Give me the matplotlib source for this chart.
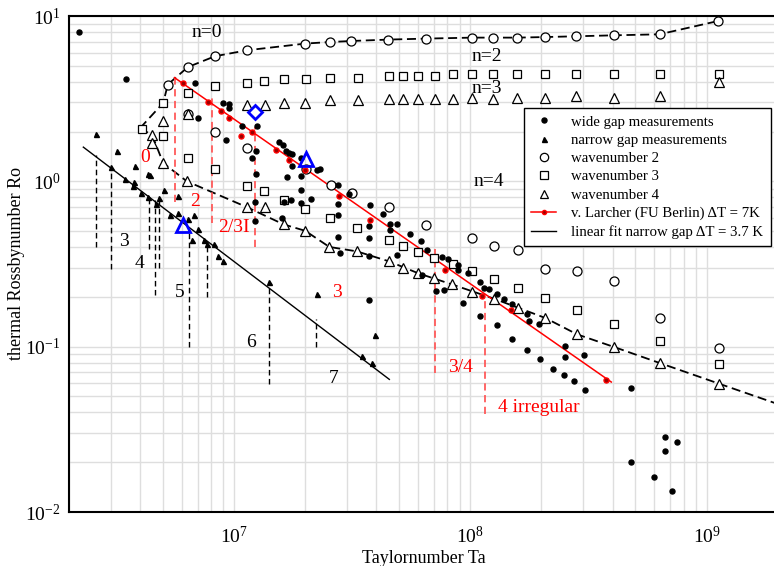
import numpy as np
import matplotlib
matplotlib.use("Agg")
import matplotlib.pyplot as plt
from matplotlib.lines import Line2D

plt.rcParams['font.family'] = 'Liberation Serif'
plt.rcParams['mathtext.fontset'] = 'stix'

# ---------------- data ----------------
# wide gap measurements (black dots)
wide_ta = [2.20e6, 3.47e6, 6.84e6, 7.03e6, 9.01e6, 9.55e6, 9.55e6, 9.25e6, 1.245e7, 1.19e7,
           1.24e7, 1.24e7, 1.55e7, 1.61e7, 1.66e7, 1.71e7, 1.76e7, 1.92e7, 1.76e7, 1.68e7,
           1.91e7, 2.31e7, 2.75e7, 3.05e7, 1.92e7, 2.11e7, 1.74e7, 1.62e7, 1.91e7, 1.22e7,
           1.23e7, 2.75e7, 2.75e7, 1.60e7, 2.75e7, 2.81e7, 3.75e7, 3.74e7, 3.74e7, 3.74e7,
           4.28e7, 4.58e7, 4.89e7, 4.55e7, 5.53e7, 4.89e7, 6.19e7, 6.58e7, 6.24e7, 7.59e7,
           8.02e7, 7.18e7, 7.73e7, 3.74e7, 8.87e7, 8.90e7, 9.78e7, 9.31e7, 1.10e8, 1.14e8,
           1.195e8, 1.30e8, 1.39e8, 1.50e8, 1.74e8, 1.77e8, 1.95e8, 1.10e8, 1.30e8, 1.50e8,
           1.73e8, 1.97e8, 2.23e8, 2.49e8, 2.74e8, 3.07e8, 2.51e8, 2.51e8, 3.04e8, 4.81e8,
           4.77e8, 6.64e8, 7.46e8, 6.64e8, 5.98e8, 7.16e8, 2.24e7, 1.08e7]
wide_ro = [8.0, 4.14, 3.94, 2.42, 2.98, 2.95, 2.78, 1.79, 2.17, 1.39,
           1.52, 1.10, 1.73, 1.67, 1.52, 1.48, 1.46, 1.39, 1.23, 1.06,
           1.07, 1.18, 0.955, 0.842, 0.888, 0.784, 0.773, 0.75, 0.739, 0.75,
           0.573, 0.726, 0.623, 0.603, 0.458, 0.369, 0.716, 0.538, 0.456, 0.352,
           0.636, 0.555, 0.555, 0.505, 0.483, 0.36, 0.435, 0.386, 0.27, 0.349,
           0.337, 0.2176, 0.221, 0.1905, 0.31, 0.292, 0.279, 0.1835, 0.246, 0.2275,
           0.224, 0.209, 0.195, 0.182, 0.158, 0.143, 0.138, 0.1525, 0.136, 0.1118,
           0.096, 0.0846, 0.0729, 0.0677, 0.0617, 0.0544, 0.1004, 0.0865, 0.0895, 0.0565,
           0.020, 0.0284, 0.0264, 0.0234, 0.01626, 0.01337, 1.166, 2.16]

# narrow gap measurements (small filled triangles)
narrow_ta = [2.60e6, 3.20e6, 3.01e6, 3.45e6, 3.77e6, 3.75e6, 4.30e6, 4.41e6, 3.81e6, 5.07e6,
             4.04e6, 4.34e6, 5.81e6, 4.66e6, 4.81e6, 5.36e6, 5.76e6, 6.40e6, 6.79e6, 7.01e6,
             6.62e6, 7.47e6, 7.65e6, 8.23e6, 8.53e6, 9.01e6, 1.41e7, 2.24e7, 3.93e7, 3.48e7,
             3.83e7]
narrow_ro = [1.92, 1.52, 1.22, 1.04, 0.99, 0.937, 1.11, 1.087, 1.24, 0.891,
             0.85, 0.804, 0.817, 0.733, 0.792, 0.623, 0.647, 0.595, 0.623, 0.5175,
             0.444, 0.444, 0.416, 0.416, 0.353, 0.33, 0.246, 0.209, 0.117, 0.0877,
             0.0796]

# wavenumber 2 (open circles)
wn2_ta = [5.24e6, 6.37e6, 8.3e6, 1.13e7, 2.0e7, 2.55e7, 3.13e7, 4.5e7, 6.52e7, 1.02e8,
          1.25e8, 1.58e8, 2.08e8, 2.81e8, 4.04e8, 6.32e8, 1.12e9,
          6.37e6, 8.3e6, 1.13e7, 2.02e7, 2.56e7, 3.15e7, 4.53e7, 6.52e7, 1.02e8,
          1.26e8, 1.59e8, 2.08e8, 2.83e8, 4.07e8, 6.34e8, 1.13e9]
wn2_ro = [3.85, 4.91, 5.71, 6.2, 6.81, 6.96, 7.06, 7.2, 7.3, 7.4,
          7.4, 7.4, 7.46, 7.54, 7.64, 7.75, 9.33,
          2.57, 1.98, 1.58, 1.19, 0.946, 0.846, 0.701, 0.545, 0.454,
          0.404, 0.383, 0.296, 0.287, 0.248, 0.149, 0.0986]

# wavenumber 3 (open squares)
wn3_ta = [4.06e6, 5.01e6, 6.37e6, 8.3e6, 1.13e7, 1.34e7, 1.63e7, 2.01e7, 2.55e7, 3.33e7,
          4.51e7, 5.19e7, 6.0e7, 7.06e7, 8.41e7, 1.02e8, 1.25e8, 1.58e8, 2.08e8, 2.81e8,
          4.04e8, 6.34e8, 1.13e9,
          5.01e6, 6.37e6, 8.3e6, 1.13e7, 1.34e7, 1.63e7, 2.0e7, 2.54e7, 3.32e7, 4.53e7,
          5.18e7, 6.03e7, 7.03e7, 8.41e7, 1.02e8, 1.26e8, 1.59e8, 2.08e8, 2.83e8, 4.07e8,
          6.34e8, 1.13e9]
wn3_ro = [2.08, 2.98, 3.44, 3.76, 3.94, 4.03, 4.14, 4.14, 4.24, 4.24,
          4.32, 4.32, 4.32, 4.32, 4.44, 4.44, 4.44, 4.44, 4.44, 4.44,
          4.44, 4.44, 4.44,
          1.87, 1.38, 1.18, 0.937, 0.87, 0.767, 0.68, 0.601, 0.523, 0.444,
          0.404, 0.376, 0.3435, 0.3156, 0.2855, 0.255, 0.226, 0.197, 0.1675, 0.1377,
          0.108, 0.0789]

# wavenumber 4 (open triangles)
wn4_ta = [5.01e6, 6.37e6, 1.13e7, 1.35e7, 1.63e7, 2.0e7, 2.55e7, 3.33e7, 4.51e7, 5.19e7,
          6.0e7, 7.06e7, 8.41e7, 1.02e8, 1.25e8, 1.58e8, 2.08e8, 2.81e8, 4.04e8, 6.34e8,
          1.13e9,
          4.5e6, 4.5e6, 5.01e6, 6.31e6, 1.13e7, 1.35e7, 1.62e7, 2.0e7, 2.53e7, 3.31e7,
          4.53e7, 5.19e7, 6.03e7, 7.02e7, 8.36e7, 1.02e8, 1.26e8, 1.59e8, 2.08e8, 2.83e8,
          4.07e8, 6.34e8, 1.13e9]
wn4_ro = [2.31, 2.57, 2.90, 2.90, 2.99, 2.99, 3.11, 3.12, 3.16, 3.16,
          3.16, 3.16, 3.16, 3.21, 3.16, 3.21, 3.21, 3.28, 3.21, 3.28,
          3.99,
          1.90, 1.70, 1.29, 1.0, 0.699, 0.696, 0.549, 0.502, 0.401, 0.377,
          0.328, 0.299, 0.2776, 0.259, 0.238, 0.214, 0.195, 0.172, 0.149, 0.1187,
          0.0994, 0.0796, 0.0597]

# v. Larcher (FU Berlin), dT = 7K
larcher_ta = [6.1e6, 7.73e6, 8.81e6, 9.55e6, 1.074e7, 1.19e7, 1.50e7, 1.70e7, 1.99e7, 2.79e7,
              3.77e7, 7.78e7, 1.12e8, 1.49e8, 3.76e8]
larcher_ro = [3.94, 3.02, 2.65, 2.40, 1.87, 1.99, 1.54, 1.34, 1.166, 0.815,
              0.585, 0.292, 0.202, 0.1675, 0.0625]
larcher_fit_ta = [5.59e6, 3.95e8]
larcher_fit_ro = [4.24, 0.0611]

# linear fit narrow gap, dT = 3.7 K
narrow_fit_ta = [2.30e6, 4.54e7]
narrow_fit_ro = [1.61, 0.0634]

# regime boundaries (dashed)
bound_upper_ta = [4.0e6, 5.01e6, 5.24e6, 6.37e6, 8.3e6, 1.13e7, 2.0e7, 2.55e7, 3.13e7, 4.5e7,
                  6.52e7, 1.02e8, 1.25e8, 1.58e8, 2.08e8, 2.81e8, 4.04e8, 6.32e8, 1.12e9]
bound_upper_ro = [2.1, 2.98, 3.85, 4.91, 5.71, 6.2, 6.81, 6.96, 7.06, 7.2,
                  7.3, 7.4, 7.4, 7.4, 7.46, 7.54, 7.64, 7.75, 9.33]
bound_lower_ta = [4.0e6, 4.5e6, 5.01e6, 6.31e6, 1.13e7, 1.62e7, 2.0e7, 2.53e7, 3.31e7, 4.53e7,
                  6.03e7, 8.36e7, 1.26e8, 2.08e8, 2.83e8, 4.07e8, 6.34e8, 1.13e9, 2.0e9]
bound_lower_ro = [2.1, 1.90, 1.29, 1.0, 0.699, 0.549, 0.502, 0.401, 0.377, 0.328,
                  0.2776, 0.238, 0.195, 0.149, 0.1187, 0.0994, 0.0796, 0.0597, 0.045]

# transitions narrow gap (black dashed verticals)
vline_ta = [2.60e6, 3.0e6, 4.37e6, 4.62e6, 4.81e6, 6.44e6, 7.65e6, 1.41e7, 2.22e7]
vline_lo = [0.401, 0.296, 0.392, 0.204, 0.301, 0.0995, 0.1995, 0.0597, 0.0995]
vline_hi = [1.44, 1.22, 0.823, 0.767, 0.804, 0.485, 0.41, 0.246, 0.1477]

# transitions wide gap (red dashed verticals)
rline_ta = [5.62e6, 8.05e6, 1.22e7, 7.06e7, 1.15e8]
rline_lo = [0.75, 0.557, 0.401, 0.0692, 0.0393]
rline_hi = [4.55, 3.36, 2.13, 0.392, 0.198]

# highlighted points (blue)
blue_diamond = (1.23e7, 2.63)
blue_tri = [(2.01e7, 1.36), (6.1e6, 0.547)]

# labels
black_labels = ["n=0", "n=2", "n=3", "n=4", "3", "4", "5", "6", "7"]
black_label_ta = [7.7e6, 1.17e8, 1.17e8, 1.2e8, 3.4e6, 3.97e6, 5.9e6, 1.18e7, 2.65e7]
black_label_ro = [7.97, 5.71, 3.65, 1.0, 0.43, 0.32, 0.212, 0.106, 0.064]
red_labels = ["0", "2", "2/3I", "3", "3/4", "4 irregular"]
red_label_ta = [4.2e6, 6.84e6, 1.0e7, 2.72e7, 9.12e7, 1.94e8]
red_label_ro = [1.40, 0.75, 0.529, 0.214, 0.0746, 0.0431]

# ---------------- plotting ----------------
fig = plt.figure(figsize=(7.74, 5.66), dpi=100)
ax = fig.add_axes([69.0 / 774, 54 / 566, 708.7 / 774, 496 / 566])
ax.set_xscale('log')
ax.set_yscale('log')
ax.set_xlim(2e6, 2e9)
ax.set_ylim(1e-2, 1e1)

ax.grid(True, which='both', color='#dedede', lw=1.0)
ax.set_axisbelow(True)
ax.tick_params(which='both', length=0, labelsize=14)
ax.tick_params(axis='x', pad=10)
ax.tick_params(axis='y', pad=6)
for s in ['left', 'bottom', 'top', 'right']:
    ax.spines[s].set_linewidth(1.5)

dash = (0, (5, 2.6))
ax.plot(bound_upper_ta, bound_upper_ro, color='black', lw=1.3, ls=dash, zorder=2)
ax.plot(bound_lower_ta, bound_lower_ro, color='black', lw=1.3, ls=dash, zorder=2)

for t, lo, hi in zip(vline_ta, vline_lo, vline_hi):
    ax.plot([t, t], [lo, hi], color='black', lw=1.0, ls=(0, (4, 2.5)), zorder=2)
for t, lo, hi in zip(rline_ta, rline_lo, rline_hi):
    ax.plot([t, t], [lo, hi], color='#ff5a5a', lw=1.3, ls=(0, (4, 2.5)), zorder=2)

ax.plot(larcher_fit_ta, larcher_fit_ro, color='red', lw=1.1, zorder=3)
ax.plot(narrow_fit_ta, narrow_fit_ro, color='black', lw=1.0, zorder=3)

ax.plot(wn2_ta, wn2_ro, 'o', ms=6.5, mfc='white', mec='black', mew=0.9, ls='none', zorder=4)
ax.plot(wn3_ta, wn3_ro, 's', ms=6.0, mfc='white', mec='black', mew=0.9, ls='none', zorder=4)
ax.plot(wn4_ta, wn4_ro, '^', ms=6.5, mfc='white', mec='black', mew=0.9, ls='none', zorder=4)
ax.plot(wide_ta, wide_ro, 'o', ms=3.6, color='black', ls='none', zorder=5)
ax.plot(narrow_ta, narrow_ro, '^', ms=3.6, color='black', ls='none', zorder=5)
ax.plot(larcher_ta, larcher_ro, 'o', ms=3.6, mfc='#9a0000', mec='red', mew=1.0, ls='none', zorder=6)

ax.plot(*blue_diamond, 'D', ms=7.5, mfc='white', mec='blue', mew=2.0, zorder=7)
for t, r in blue_tri:
    ax.plot(t, r, '^', ms=10, mfc='none', mec='blue', mew=2.0, zorder=7)

for s, t, r in zip(black_labels, black_label_ta, black_label_ro):
    ax.text(t, r, s, fontsize=14, color='black', ha='center', va='center', zorder=8)
for s, t, r in zip(red_labels, red_label_ta, red_label_ro):
    ax.text(t, r, s, fontsize=14, color='red', ha='center', va='center', zorder=8)

ax.set_xlabel("Taylornumber Ta", fontsize=13, labelpad=2)
ax.set_ylabel("thermal Rossbynumber Ro", fontsize=13, labelpad=0)

handles = [
    Line2D([], [], marker='o', ms=3.6, color='black', ls='none'),
    Line2D([], [], marker='^', ms=3.6, color='black', ls='none'),
    Line2D([], [], marker='o', ms=6, mfc='white', mec='black', mew=0.9, ls='none'),
    Line2D([], [], marker='s', ms=5.5, mfc='white', mec='black', mew=0.9, ls='none'),
    Line2D([], [], marker='^', ms=6, mfc='white', mec='black', mew=0.9, ls='none'),
    Line2D([], [], marker='o', ms=3, mfc='#9a0000', mec='red', color='red', lw=1.1),
    Line2D([], [], color='black', lw=1.0),
]
labels = ["wide gap measurements", "narrow gap measurements", "wavenumber 2",
          "wavenumber 3", "wavenumber 4", "v. Larcher (FU Berlin) \u0394T = 7K",
          "linear fit narrow gap \u0394T = 3.7 K"]
leg = ax.legend(handles, labels, loc='upper right', fontsize=10.7,
                bbox_to_anchor=(770.7 / 774, 1 - 107.7 / 566), bbox_transform=fig.transFigure,
                borderaxespad=0, frameon=True, fancybox=False, framealpha=1,
                edgecolor='black', handlelength=1.7, handletextpad=1.0,
                labelspacing=0.33, borderpad=0.5)
leg.get_frame().set_linewidth(1.0)
leg.set_zorder(10)

fig.savefig("out.png", dpi=100)
